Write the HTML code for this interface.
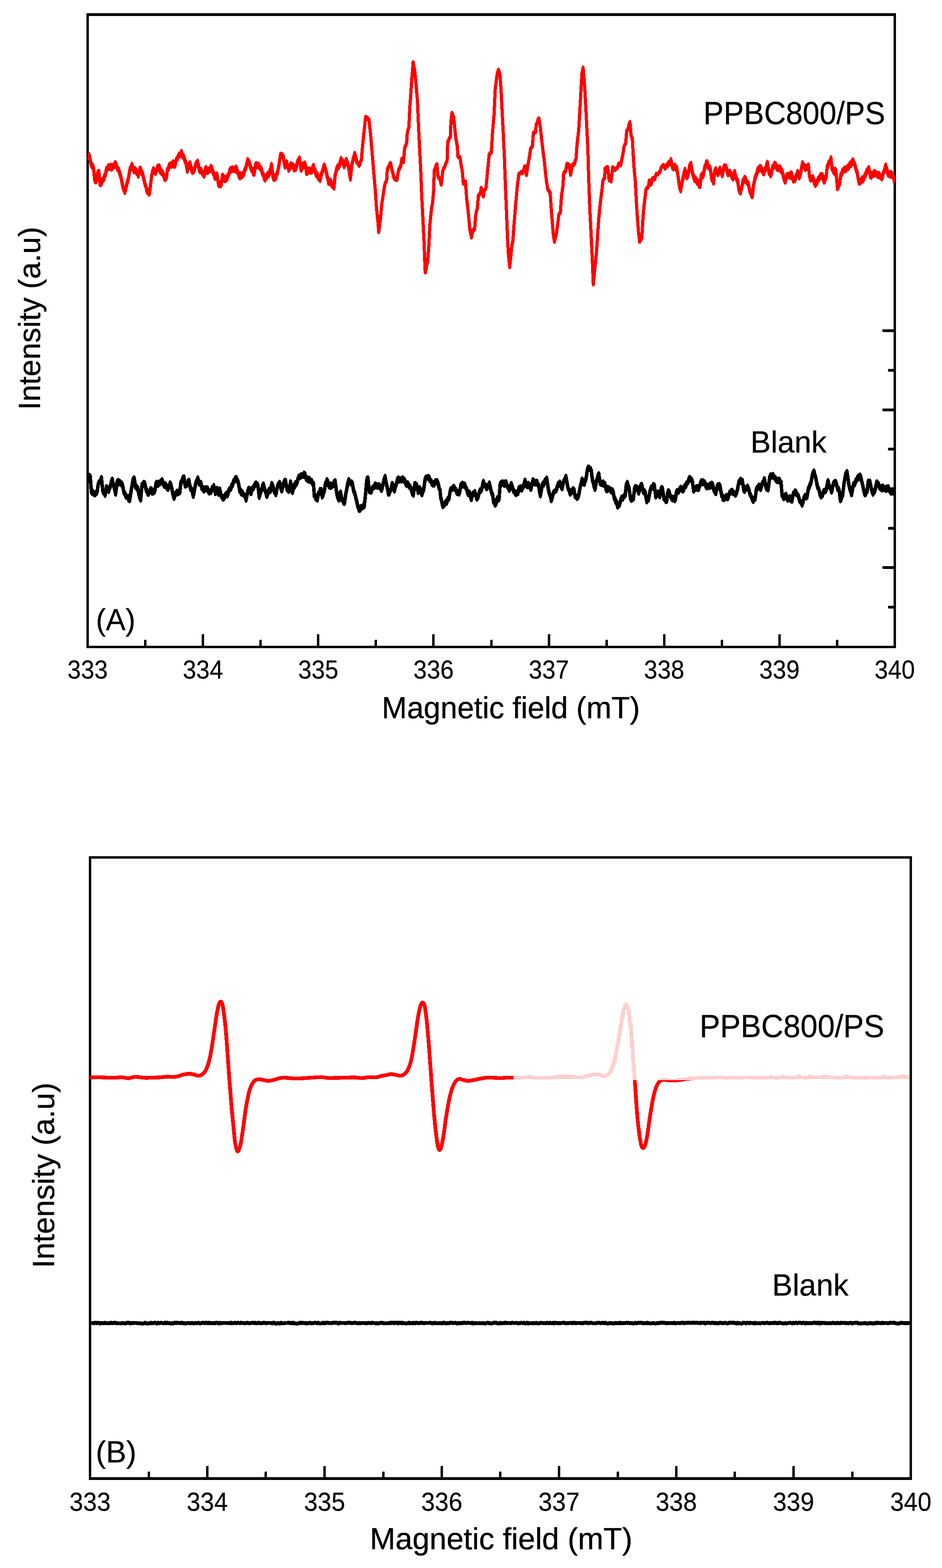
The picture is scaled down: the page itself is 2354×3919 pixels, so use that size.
<!DOCTYPE html>
<html lang="en"><head><meta charset="utf-8"><title>EPR spectra</title>
<style>html,body{margin:0;padding:0;background:#fff}body{width:2354px;height:3919px;overflow:hidden}svg{display:block}text{font-family:"Liberation Sans",sans-serif;fill:#000}</style>
</head><body>
<svg width="2354" height="3919" viewBox="0 0 2354 3919">
<defs>
<pattern id="dith" patternUnits="userSpaceOnUse" x="0" y="0" width="4" height="4"><rect x="3" y="1" width="1" height="1" fill="#f00"/><rect x="1" y="3" width="1" height="1" fill="#f00"/><rect x="3" y="3" width="1" height="1" fill="#f00"/></pattern>
<clipPath id="cbox"><rect x="1283" y="2150" width="991" height="549.5"/></clipPath>
<clipPath id="csolid"><path d="M0,2100 H1283 V2699.5 H2354 V3800 H0 Z"/></clipPath>
<clipPath id="cA"><rect x="218" y="40" width="2019" height="1574"/></clipPath>
<clipPath id="cB"><rect x="224" y="2146" width="2053" height="1546"/></clipPath>
</defs>
<rect width="2354" height="3919" fill="#fff"/>
<g id="frameA">
<path d="M216,33H2239V1620H216Z M222,40V1614H2233V40Z" fill="#000" fill-rule="evenodd" shape-rendering="crispEdges"/>
<path d="M360,1615V1600l1,-1h4l1,1V1615ZM504,1615V1586l1,-1h4l1,1V1615ZM648,1615V1600l1,-1h4l1,1V1615ZM792,1615V1586l1,-1h4l1,1V1615ZM936,1615V1600l1,-1h4l1,1V1615ZM1080,1615V1586l1,-1h4l1,1V1615ZM1225,1615V1600l1,-1h4l1,1V1615ZM1369,1615V1586l1,-1h4l1,1V1615ZM1513,1615V1600l1,-1h4l1,1V1615ZM1657,1615V1586l1,-1h4l1,1V1615ZM1801,1615V1600l1,-1h4l1,1V1615ZM1945,1615V1586l1,-1h4l1,1V1615ZM2089,1615V1600l1,-1h4l1,1V1615ZM2234,823H2206l-1,1v5l1,1H2234ZM2234,922H2220l-1,1v5l1,1H2234ZM2234,1021H2206l-1,1v5l1,1H2234ZM2234,1119H2220l-1,1v5l1,1H2234ZM2234,1218H2206l-1,1v5l1,1H2234ZM2234,1317H2220l-1,1v5l1,1H2234ZM2234,1415H2206l-1,1v5l1,1H2234ZM2234,1514H2220l-1,1v5l1,1H2234Z" fill="#000" shape-rendering="crispEdges"/>
</g>
<g id="frameB">
<path d="M222,2140H2279V3699H222Z M228,2146V3692H2273V2146Z" fill="#000" fill-rule="evenodd" shape-rendering="crispEdges"/>
<path d="M369,3693V3679l1,-1h4l1,1V3693ZM515,3693V3665l1,-1h4l1,1V3693ZM661,3693V3679l1,-1h4l1,1V3693ZM808,3693V3665l1,-1h4l1,1V3693ZM955,3693V3679l1,-1h4l1,1V3693ZM1101,3693V3665l1,-1h4l1,1V3693ZM1247,3693V3679l1,-1h4l1,1V3693ZM1394,3693V3665l1,-1h4l1,1V3693ZM1541,3693V3679l1,-1h4l1,1V3693ZM1687,3693V3665l1,-1h4l1,1V3693ZM1833,3693V3679l1,-1h4l1,1V3693ZM1980,3693V3665l1,-1h4l1,1V3693ZM2127,3693V3679l1,-1h4l1,1V3693Z" fill="#000" shape-rendering="crispEdges"/>
</g>
<g id="curves" fill="none" stroke-linejoin="round" stroke-linecap="butt" shape-rendering="crispEdges">
<g clip-path="url(#cA)"><path id="blankA" transform="scale(1,1.7)" d="M219.4,701.6 221.5,703.1 223.5,699.2 225.6,700.8 228.3,722.2 230.1,724.9 231.9,722.6 233.7,724.6 235.7,726.9 237.7,727.0 239.5,724.1 241.3,725.0 243.1,722.2 245.3,712.7 247.6,708.8 249.9,708.0 251.7,706.3 253.4,702.4 255.0,711.4 256.6,720.6 258.6,724.3 260.5,724.1 262.5,727.8 264.2,722.1 266.0,715.9 267.8,716.8 269.6,721.1 271.4,722.2 273.2,717.9 275.0,716.5 276.8,712.7 278.6,708.0 280.3,704.8 282.6,710.8 284.9,715.9 286.9,720.4 288.9,726.2 290.9,717.3 293.0,708.0 295.0,706.8 297.1,710.9 299.1,708.0 301.1,709.6 302.9,712.2 304.7,710.9 306.5,714.3 308.5,720.4 310.5,725.4 312.8,725.9 315.0,730.6 317.3,730.2 319.5,730.1 321.8,734.9 324.0,735.7 326.0,727.9 328.0,720.6 330.1,713.8 332.1,706.4 333.7,703.7 335.3,703.2 337.1,709.9 338.8,715.9 340.6,715.1 342.4,718.9 344.2,717.5 345.9,722.7 347.7,728.6 349.6,732.5 351.5,734.9 353.2,723.7 355.0,712.7 357.2,713.5 359.5,709.5 361.7,710.4 363.8,716.5 365.8,721.5 367.6,721.7 369.4,726.0 371.2,726.2 373.0,723.1 374.7,722.7 376.5,719.1 378.3,719.2 380.1,724.5 381.9,724.6 383.7,721.6 385.5,723.3 387.3,720.6 390.0,710.4 392.3,709.3 394.5,713.4 396.8,711.9 398.6,708.9 400.4,710.4 402.2,708.0 404.9,705.6 406.9,708.4 408.9,712.7 411.1,714.8 413.4,712.0 415.6,714.3 417.6,718.2 419.7,719.1 421.5,715.2 423.3,713.9 425.1,710.4 427.1,712.8 429.1,717.5 430.7,722.7 432.3,727.0 435.0,732.5 436.8,728.2 438.5,725.4 440.3,726.3 442.1,722.7 443.9,723.8 445.7,725.5 447.5,721.7 449.3,723.8 452.0,709.6 454.1,708.1 456.1,704.8 457.9,701.8 459.6,701.6 461.2,708.2 462.8,714.3 464.6,711.4 466.4,713.3 468.2,711.1 470.2,707.7 472.2,706.4 474.2,713.1 476.3,719.1 478.3,719.0 480.3,722.2 483.0,729.4 484.6,724.5 486.3,719.1 488.5,713.0 490.6,708.0 492.5,706.5 494.3,703.2 496.1,706.6 497.8,711.1 499.9,712.0 501.9,709.6 504.6,718.3 506.8,716.9 509.1,721.5 511.3,720.6 513.1,717.5 514.9,719.8 516.7,717.5 519.0,718.2 521.2,723.4 523.5,724.6 525.3,722.1 527.0,723.7 528.8,720.6 530.6,717.0 532.4,717.2 534.2,714.3 536.2,719.4 538.3,725.4 540.3,722.9 542.3,718.3 544.3,721.5 546.4,726.2 549.1,719.1 551.1,724.7 553.1,729.4 554.9,729.7 556.7,733.1 558.5,733.4 560.3,729.9 562.1,730.7 563.9,727.0 565.9,725.6 567.9,728.6 569.7,726.3 571.5,721.6 573.3,719.1 575.3,719.7 577.4,717.5 579.2,713.6 580.9,713.5 582.7,709.6 584.6,706.3 586.5,707.1 588.3,702.8 590.2,702.4 592.2,706.4 594.2,707.1 596.2,711.1 597.8,717.0 599.4,722.2 601.3,720.9 603.2,725.9 605.1,723.3 607.0,725.4 609.4,728.3 611.8,728.6 613.4,730.8 615.0,734.9 617.0,729.0 619.1,722.2 621.1,718.5 623.1,718.3 625.2,722.8 627.2,725.4 629.2,720.6 631.2,717.5 633.2,718.1 635.3,715.1 637.3,711.8 639.3,710.4 641.1,713.0 642.9,711.7 644.7,714.3 646.3,722.8 647.9,730.9 650.0,725.7 652.2,722.2 654.2,719.5 656.2,714.2 658.2,711.9 660.2,717.0 662.2,720.6 664.5,724.3 666.8,729.4 669.2,725.8 671.6,720.6 673.7,719.2 675.7,722.2 677.5,717.1 679.2,711.1 681.5,714.1 683.8,719.1 685.6,723.0 687.4,723.0 689.2,727.0 691.2,722.0 693.2,715.9 695.0,712.6 696.8,713.0 698.6,709.6 700.4,712.7 702.2,718.3 704.0,721.5 705.8,716.8 707.6,714.2 709.4,709.6 711.4,706.7 713.4,706.4 715.5,713.6 717.5,719.9 719.3,718.6 721.1,722.1 722.9,721.5 724.5,714.8 726.1,708.8 728.5,716.8 730.9,723.8 733.0,718.0 735.0,713.5 736.8,715.2 738.6,710.3 740.4,711.9 742.4,709.3 744.4,704.8 746.5,701.0 748.5,700.1 750.7,701.4 753.0,698.2 755.2,699.2 757.4,700.0 759.7,696.2 761.9,696.9 764.0,701.9 766.0,704.8 767.8,702.8 769.6,706.6 771.4,704.8 773.2,703.8 775.0,707.6 776.8,707.2 779.0,706.9 781.3,711.6 783.5,711.1 785.4,728.6 787.3,728.8 789.1,733.0 791.0,732.0 792.9,734.9 795.6,725.4 797.9,724.9 800.1,720.1 802.4,719.9 805.1,730.2 806.9,728.3 808.7,724.1 810.5,722.2 813.2,711.1 815.2,709.3 817.2,705.6 819.2,708.7 821.2,713.5 823.1,715.7 825.0,711.9 826.9,716.3 828.8,712.5 830.7,714.3 832.9,712.8 835.2,708.3 837.4,707.2 840.1,719.1 842.8,728.6 844.8,732.7 846.8,734.9 848.8,729.0 850.9,723.8 852.9,729.9 854.9,734.9 856.9,735.2 858.9,739.3 860.9,739.7 862.6,732.3 864.4,725.4 866.4,719.6 868.4,712.7 870.0,708.7 871.6,705.6 874.0,709.5 876.5,711.1 878.5,709.2 880.5,710.4 882.2,716.6 884.0,722.2 885.6,723.6 887.3,727.0 889.3,732.3 891.3,736.5 894.0,744.5 895.8,746.0 897.5,750.0 899.5,749.9 901.5,745.2 903.5,745.2 905.7,746.3 908.0,743.0 910.2,744.5 912.0,735.1 913.7,725.4 916.4,706.4 918.0,703.2 919.6,703.2 921.2,712.9 922.9,722.2 925.0,720.0 927.0,723.3 929.1,720.6 931.1,716.8 933.1,715.9 935.3,716.2 937.6,712.1 939.8,712.7 941.8,716.0 943.9,715.9 945.9,713.2 947.9,713.5 949.7,717.2 951.5,717.0 953.3,720.6 955.3,716.7 957.4,711.1 959.8,705.2 962.2,700.8 964.5,708.1 966.7,714.3 968.8,719.8 970.8,726.2 972.6,725.9 974.4,721.4 976.2,720.6 978.2,716.5 980.2,711.1 982.0,713.8 983.8,718.7 985.6,721.5 987.6,716.6 989.6,712.7 991.7,708.9 993.7,704.0 995.5,703.1 997.3,707.0 999.1,706.4 1000.9,704.5 1002.7,706.8 1004.5,704.0 1006.3,702.8 1008.1,706.8 1009.9,704.8 1011.9,706.9 1013.9,711.1 1016.1,713.3 1018.4,710.0 1020.6,712.7 1022.7,715.9 1024.7,715.1 1026.7,717.9 1028.7,722.2 1030.8,725.9 1032.8,727.8 1034.8,719.2 1036.8,711.1 1038.8,714.0 1040.9,712.7 1042.9,717.7 1044.9,723.8 1046.9,721.8 1048.9,717.5 1050.7,719.8 1052.5,724.8 1054.3,727.0 1056.3,723.0 1058.4,720.6 1060.4,713.0 1062.4,704.8 1064.5,701.9 1066.5,701.6 1068.5,702.8 1070.5,700.8 1072.3,701.5 1074.1,706.1 1075.9,706.4 1077.7,707.6 1079.5,711.6 1081.3,712.7 1083.1,710.3 1084.9,712.7 1086.7,709.6 1088.5,707.1 1090.3,709.1 1092.1,707.2 1094.1,709.7 1096.1,714.3 1097.8,718.5 1099.6,720.6 1101.5,731.8 1103.3,735.2 1105.1,740.8 1106.9,744.5 1108.7,741.2 1110.5,742.5 1112.3,739.7 1114.1,737.4 1115.9,739.6 1117.7,736.5 1119.7,733.1 1121.7,733.4 1123.3,728.1 1125.0,722.2 1126.8,718.9 1128.5,719.1 1130.5,718.5 1132.5,715.9 1134.3,715.6 1136.1,719.1 1137.9,719.1 1139.7,720.2 1141.5,724.2 1143.3,725.4 1145.1,722.9 1146.9,725.8 1148.7,723.8 1150.3,718.0 1151.9,712.7 1153.8,713.9 1155.7,710.8 1157.6,714.3 1159.5,711.9 1161.3,712.4 1163.1,716.6 1164.9,717.5 1166.9,720.6 1168.9,725.4 1170.7,727.2 1172.5,723.7 1174.3,725.4 1176.0,730.4 1177.8,734.1 1180.1,728.9 1182.4,725.4 1184.4,726.1 1186.4,723.1 1188.8,727.5 1191.3,733.4 1193.5,732.4 1195.8,728.6 1197.8,723.8 1199.9,720.6 1201.9,721.7 1203.9,719.1 1206.0,713.0 1208.0,708.0 1210.0,712.1 1212.0,714.3 1213.8,713.7 1215.6,718.2 1217.4,717.5 1219.2,714.1 1221.0,714.2 1222.8,710.4 1224.8,714.9 1226.8,720.6 1228.8,725.1 1230.9,727.0 1233.6,738.1 1235.4,737.4 1237.2,742.3 1239.0,741.3 1241.7,734.1 1243.5,731.9 1245.3,735.3 1247.1,733.4 1249.8,712.7 1251.6,710.0 1253.3,711.7 1255.1,708.8 1257.2,709.1 1259.2,712.7 1261.0,713.2 1262.8,708.9 1264.6,708.8 1266.6,712.9 1268.6,715.9 1270.7,717.4 1272.7,720.6 1275.1,716.4 1277.5,711.1 1279.8,714.9 1282.1,719.9 1283.9,722.6 1285.7,722.5 1287.5,725.4 1289.7,726.7 1292.0,723.4 1294.2,725.4 1296.9,717.5 1298.7,719.8 1300.5,716.3 1302.3,719.1 1304.1,720.1 1305.9,715.1 1307.7,715.9 1309.8,712.0 1311.8,706.4 1313.8,709.8 1315.8,714.3 1318.0,715.2 1320.3,711.0 1322.5,712.7 1324.5,716.9 1326.6,719.1 1328.4,714.1 1330.2,710.8 1332.0,705.6 1334.0,707.3 1336.0,711.1 1338.0,711.1 1340.1,708.0 1341.9,708.3 1343.6,712.3 1345.4,712.7 1347.8,720.4 1350.2,728.6 1352.5,721.9 1354.8,714.3 1356.6,710.9 1358.4,713.0 1360.2,709.6 1362.2,706.0 1364.1,707.0 1366.1,703.2 1368.2,710.9 1370.2,719.1 1372.3,724.4 1374.5,728.6 1376.1,731.3 1377.7,735.7 1379.8,732.1 1381.8,727.0 1384.1,723.2 1386.4,722.2 1388.8,721.7 1391.2,719.1 1393.2,714.4 1395.3,711.1 1397.1,712.9 1398.8,709.1 1400.6,711.1 1402.7,715.8 1404.7,718.3 1407.1,711.7 1409.5,706.4 1411.8,704.7 1414.1,700.8 1416.2,707.2 1418.2,714.3 1420.2,718.7 1422.2,720.6 1424.9,726.2 1426.7,722.6 1428.5,723.8 1430.3,720.6 1432.3,718.9 1434.3,719.9 1435.9,725.5 1437.6,730.2 1440.0,729.7 1442.4,732.5 1444.5,730.8 1446.5,727.0 1448.2,721.1 1450.0,715.9 1452.3,710.9 1454.6,704.8 1456.4,706.0 1458.1,710.4 1459.9,711.9 1462.0,707.5 1464.0,704.8 1466.0,698.1 1468.0,690.5 1469.8,687.2 1471.5,687.1 1473.5,689.9 1475.5,689.1 1477.5,692.1 1479.1,699.4 1480.7,706.4 1482.8,709.8 1484.8,715.7 1486.9,719.1 1488.9,712.4 1490.9,706.4 1492.7,704.1 1494.5,699.1 1496.3,696.9 1498.3,704.4 1500.4,711.1 1502.2,709.3 1504.0,712.1 1505.8,710.4 1507.6,709.0 1509.4,713.2 1511.2,711.1 1513.2,715.3 1515.2,720.6 1517.0,721.2 1518.8,717.0 1520.6,717.5 1522.4,720.0 1524.2,718.7 1526.0,721.5 1528.0,723.1 1529.9,720.4 1531.9,722.2 1533.7,728.2 1535.4,733.4 1537.2,733.7 1539.0,738.4 1540.8,738.1 1543.5,745.2 1545.5,742.7 1547.5,742.9 1549.5,739.1 1551.6,734.1 1553.8,731.2 1556.1,733.5 1558.3,730.9 1560.3,728.2 1562.4,728.6 1565.1,712.7 1567.8,709.6 1569.8,714.4 1571.8,717.5 1573.8,725.2 1575.8,733.4 1578.1,735.3 1580.3,732.1 1582.6,733.4 1584.2,726.0 1585.8,718.3 1587.9,715.7 1589.9,719.5 1592.0,716.7 1594.0,719.8 1596.1,724.6 1598.1,720.8 1600.1,715.9 1601.8,713.0 1603.6,712.7 1605.9,718.8 1608.2,723.8 1610.2,721.7 1612.2,723.8 1614.2,730.9 1616.3,737.3 1618.3,734.9 1620.3,734.9 1622.3,729.1 1624.4,722.2 1626.4,718.0 1628.4,715.9 1630.6,716.9 1632.9,712.6 1635.1,713.5 1636.9,722.1 1638.7,730.2 1640.7,726.8 1642.6,727.6 1644.6,723.8 1646.6,726.1 1648.6,730.2 1650.3,725.0 1652.1,719.1 1653.8,717.1 1655.4,718.3 1657.4,726.2 1659.4,733.4 1661.6,732.5 1663.9,736.8 1666.1,736.5 1668.8,723.8 1670.4,721.7 1672.1,723.1 1674.5,728.4 1676.9,731.8 1678.7,730.6 1680.5,734.7 1682.3,733.4 1684.1,731.7 1685.9,735.9 1687.7,734.1 1690.4,723.8 1692.6,721.5 1694.9,723.7 1697.1,721.5 1699.2,718.2 1701.2,716.7 1703.0,720.1 1704.8,718.2 1706.6,721.5 1708.4,720.1 1710.2,715.2 1712.0,714.3 1713.8,714.9 1715.6,710.5 1717.4,710.4 1719.4,708.9 1721.4,704.8 1723.2,702.3 1724.9,702.9 1726.7,705.8 1728.4,705.2 1730.2,708.0 1731.8,715.0 1733.5,721.5 1735.7,718.6 1738.0,718.8 1740.2,715.9 1742.0,715.8 1743.8,719.4 1745.6,719.1 1747.4,715.2 1749.2,713.4 1751.0,709.6 1752.9,707.3 1754.8,710.9 1756.6,707.3 1758.5,710.8 1760.4,708.8 1762.5,711.2 1764.5,715.9 1766.7,717.0 1769.0,713.9 1771.2,715.1 1773.1,716.6 1775.0,711.7 1776.8,715.4 1778.7,710.8 1780.6,711.9 1782.7,717.3 1784.7,721.5 1786.7,722.4 1788.7,725.4 1790.5,720.9 1792.2,715.1 1794.0,713.0 1795.8,716.9 1797.7,713.0 1799.5,715.1 1801.5,722.2 1803.6,728.6 1805.4,729.1 1807.1,733.9 1808.9,734.1 1810.7,731.5 1812.5,732.5 1814.3,729.4 1816.1,728.8 1817.9,733.0 1819.7,731.8 1821.8,726.8 1823.8,723.8 1825.8,724.4 1827.8,721.5 1829.6,721.3 1831.4,725.1 1833.2,725.4 1835.5,725.0 1837.8,727.8 1840.2,725.2 1842.6,720.6 1844.7,713.9 1846.7,708.0 1848.7,708.9 1850.8,705.0 1852.8,708.6 1854.8,706.4 1856.8,713.2 1858.8,720.6 1860.6,722.2 1862.4,717.4 1864.2,719.1 1866.0,718.4 1867.7,715.1 1870.0,717.6 1872.3,722.2 1874.3,726.6 1876.3,728.6 1878.3,730.9 1880.4,734.9 1882.5,736.9 1884.5,733.2 1886.6,734.1 1888.2,727.7 1889.8,720.6 1892.0,717.0 1894.3,717.3 1896.5,713.5 1898.5,714.8 1900.6,719.1 1902.4,716.6 1904.2,711.9 1906.0,709.6 1908.0,708.1 1910.0,704.0 1912.0,709.4 1914.1,715.9 1915.9,718.7 1917.7,716.8 1919.5,719.9 1921.5,711.0 1923.5,701.6 1925.7,698.5 1928.0,701.3 1930.2,698.5 1932.0,698.1 1933.8,702.0 1935.6,701.6 1937.4,702.5 1939.2,706.3 1941.0,707.2 1942.8,705.2 1944.6,707.8 1946.4,704.8 1948.2,705.3 1950.0,709.5 1951.8,709.6 1954.5,728.6 1956.3,728.4 1958.1,732.8 1959.9,731.8 1961.9,728.1 1963.9,727.0 1966.0,731.6 1968.0,734.9 1969.8,731.8 1971.6,734.1 1973.4,730.9 1975.2,731.1 1977.0,735.7 1978.8,736.5 1980.8,730.5 1982.8,725.4 1984.8,725.4 1986.8,722.2 1988.6,722.6 1990.4,726.9 1992.2,727.0 1994.2,728.0 1996.3,731.8 1998.3,736.1 2000.3,738.1 2002.3,738.4 2004.4,742.1 2006.4,738.5 2008.4,733.4 2010.5,729.9 2012.5,728.6 2014.5,731.6 2016.5,730.9 2018.5,723.8 2020.5,717.5 2022.3,716.3 2024.1,712.4 2025.9,711.1 2028.0,705.3 2030.0,698.5 2032.0,694.7 2034.0,692.9 2036.0,697.8 2038.1,701.6 2040.1,707.1 2042.1,713.5 2043.9,717.3 2045.7,718.5 2047.5,722.2 2049.5,727.0 2051.5,730.2 2053.3,727.1 2055.1,728.4 2056.9,725.4 2058.9,721.6 2061.0,721.5 2063.0,722.3 2065.0,719.1 2067.1,712.7 2069.1,707.2 2071.1,712.4 2073.1,715.9 2075.6,718.6 2078.0,723.1 2080.2,717.8 2082.5,711.1 2084.3,709.0 2086.1,710.4 2087.9,708.0 2089.9,710.9 2092.0,715.9 2093.8,719.4 2095.6,718.7 2097.4,722.2 2100.1,735.7 2101.9,734.2 2103.6,730.1 2105.4,728.6 2107.4,719.4 2109.5,709.6 2111.5,702.9 2113.5,696.9 2115.0,696.3 2116.5,693.7 2118.6,701.4 2120.6,709.6 2122.2,714.9 2123.8,719.1 2125.9,722.1 2127.9,727.0 2129.9,721.2 2131.9,714.3 2133.7,711.0 2135.5,712.5 2137.3,709.6 2139.1,705.8 2140.9,705.8 2142.7,702.4 2144.7,700.7 2146.8,703.6 2148.8,698.7 2150.8,700.4 2152.8,706.3 2154.8,711.1 2156.9,716.2 2158.9,722.2 2161.5,727.0 2163.3,726.5 2165.1,722.7 2166.9,722.2 2169.6,708.0 2171.6,709.3 2173.7,708.0 2175.7,713.2 2177.7,719.1 2179.8,723.5 2181.8,726.2 2183.6,722.4 2185.4,722.9 2187.2,719.1 2189.2,713.3 2191.2,708.8 2193.0,712.1 2194.8,711.2 2196.6,714.3 2198.4,717.6 2200.2,715.9 2202.0,719.1 2203.8,720.1 2205.6,715.0 2207.4,715.9 2209.6,719.2 2211.9,717.4 2214.1,720.6 2215.9,720.2 2217.7,716.1 2219.5,715.9 2221.5,720.0 2223.5,722.2 2225.3,721.4 2227.1,724.7 2228.9,723.8 2230.7,721.8 2232.4,724.4 2234.2,720.8 2235.9,722.2" stroke="#000" stroke-width="8.6"/>
<path id="sampleA-base" transform="scale(1,2.0)" d="M219.4,195.3 221.2,196.0 222.9,194.0 224.9,198.6 227.0,204.1 229.2,207.5 231.5,207.1 233.7,210.2 236.4,224.3 238.4,226.7 240.4,226.3 242.4,220.5 244.5,215.6 247.2,214.8 249.9,229.7 251.9,230.2 253.9,228.3 255.9,225.3 258.0,224.3 259.8,223.6 261.5,219.5 263.3,218.9 266.0,211.5 268.3,211.4 270.5,208.1 272.8,208.2 274.8,209.6 276.9,207.0 278.9,210.8 280.9,209.4 283.1,206.9 285.4,207.4 287.6,204.1 289.6,204.8 291.6,208.2 293.9,211.5 296.1,211.5 298.4,214.8 300.4,218.7 302.4,221.6 304.4,226.8 306.5,232.4 308.3,235.7 310.1,236.8 311.9,239.8 313.9,236.6 315.9,232.4 317.7,228.4 319.5,225.6 321.3,221.6 323.3,215.9 325.3,210.8 327.4,209.4 329.4,206.1 331.4,208.2 333.4,212.2 335.7,214.1 337.9,211.4 340.2,213.5 342.0,216.5 343.8,216.5 345.6,219.6 347.6,215.7 349.6,210.8 351.4,211.4 353.2,215.5 355.0,215.6 357.0,218.5 359.0,222.9 361.1,227.7 363.1,231.1 364.9,233.2 366.7,237.5 368.5,239.8 370.3,239.1 372.1,242.0 373.9,241.2 376.5,229.7 379.2,218.9 381.2,214.8 383.3,211.5 385.1,214.4 386.9,213.6 388.7,216.2 390.7,214.1 392.7,210.2 394.5,208.2 396.3,210.7 398.1,208.2 400.8,214.8 402.6,213.2 404.4,216.3 406.2,215.6 408.2,218.0 410.2,221.6 412.0,223.7 413.8,220.6 415.6,222.3 418.3,212.2 420.6,211.3 422.8,206.7 425.1,205.4 427.1,207.1 429.1,206.8 431.8,203.4 433.6,203.1 435.4,207.2 437.2,206.8 439.9,201.4 441.7,198.6 443.5,198.0 445.3,195.3 447.3,193.4 449.3,194.0 451.4,193.3 453.4,189.9 456.1,195.3 458.1,194.8 460.1,197.3 462.1,200.7 464.2,202.8 466.2,207.8 468.2,213.5 470.2,209.9 472.2,205.4 474.9,204.1 476.9,208.1 479.0,212.8 480.8,214.9 482.6,212.1 484.4,213.5 486.4,210.8 488.4,206.8 490.2,204.1 492.0,204.5 493.8,202.1 495.8,206.6 497.8,212.2 500.1,214.1 502.3,212.4 504.6,214.8 506.4,217.3 508.2,217.0 510.0,219.6 512.0,215.2 514.0,210.2 515.8,210.8 517.6,214.8 519.4,214.8 521.5,212.0 523.5,212.2 525.3,212.4 527.0,208.7 528.8,209.4 530.8,213.4 532.9,216.2 534.7,217.3 536.5,221.4 538.3,222.3 540.3,219.1 542.3,218.2 544.3,224.9 546.4,231.1 548.6,228.8 550.9,231.8 553.1,230.3 555.8,219.6 557.8,220.3 559.8,222.9 561.6,225.1 563.4,222.6 565.2,224.3 567.0,223.4 568.8,220.0 570.6,218.9 572.4,217.0 574.2,213.1 576.0,211.5 578.2,213.0 580.5,210.3 582.7,212.2 585.4,212.2 587.2,212.8 589.0,209.4 590.8,210.2 593.0,214.5 595.3,216.1 597.5,220.2 599.4,221.5 601.3,217.9 603.2,220.6 605.1,218.0 607.0,218.9 609.2,217.4 611.5,212.4 613.7,210.8 615.5,207.7 617.3,203.2 619.1,200.1 620.9,203.1 622.7,202.3 624.5,205.4 626.5,209.3 628.5,212.2 630.8,212.1 633.0,216.9 635.3,216.9 638.0,206.8 640.2,205.0 642.5,207.7 644.7,206.1 646.9,206.5 649.2,209.7 651.4,210.2 653.2,211.5 655.0,215.8 656.8,217.6 658.6,218.8 660.4,222.8 662.2,224.3 664.0,221.2 665.8,221.8 667.6,218.9 669.4,217.2 671.2,219.1 673.0,217.6 674.8,213.2 676.6,210.3 678.4,206.1 680.4,213.7 682.4,221.6 684.2,223.6 686.0,220.7 687.8,222.9 689.6,221.7 691.4,217.7 693.2,216.2 695.2,211.3 697.3,205.4 699.3,199.1 701.3,193.3 703.5,195.1 705.8,193.9 708.0,196.0 710.0,202.4 712.1,208.2 714.1,204.9 716.1,202.8 717.9,206.4 719.7,208.4 721.5,212.2 723.3,210.9 725.1,207.0 726.9,205.4 729.1,208.0 731.4,206.5 733.6,209.4 735.4,211.8 737.2,208.7 739.0,210.8 740.8,208.4 742.6,203.9 744.4,201.4 746.5,200.6 748.5,198.0 750.5,204.9 752.5,212.2 754.3,210.5 756.1,206.5 757.9,205.4 759.7,207.6 761.5,204.4 763.3,206.8 766.0,216.2 768.2,215.7 770.5,212.1 772.7,212.2 774.5,214.4 776.3,212.4 778.1,214.8 779.9,213.1 781.7,208.8 783.5,207.4 785.3,210.9 787.1,212.6 788.9,216.2 790.7,218.9 792.5,217.4 794.3,220.2 796.1,223.1 797.9,222.1 799.7,224.9 801.5,222.3 803.3,217.5 805.1,214.8 806.9,212.8 808.7,208.6 810.5,206.8 812.3,210.7 814.0,212.3 815.8,216.2 817.6,220.7 819.4,223.7 821.2,228.3 823.2,228.6 825.3,225.7 827.1,227.0 828.9,231.1 830.7,232.4 832.7,232.2 834.7,234.4 837.4,218.9 839.5,215.4 841.5,210.8 843.7,208.1 846.0,209.1 848.2,206.8 850.2,202.2 852.2,198.7 854.0,201.9 855.8,201.0 857.6,204.1 860.0,207.8 861.8,206.0 863.6,201.8 865.4,199.8 867.2,203.3 869.0,204.4 870.8,207.8 873.2,215.9 875.6,223.3 877.5,214.1 879.4,205.2 881.1,202.4 882.9,198.0 884.6,196.0 886.4,192.3 888.7,196.1 891.0,201.1 893.1,204.2M1667.2,205.4 1669.0,206.0 1670.8,203.8 1672.6,204.1 1674.6,203.2 1676.6,200.1 1678.6,204.4 1680.6,209.4 1682.7,210.3 1684.7,208.2 1686.7,207.1 1688.6,210.6 1690.6,209.4 1692.3,213.9 1694.1,218.9 1696.8,229.7 1698.8,234.5 1700.9,237.8 1702.9,232.0 1704.9,227.0 1706.9,222.7 1708.9,217.6 1711.6,212.2 1713.7,216.3 1715.7,221.6 1717.7,220.6 1719.7,217.6 1721.8,211.8 1723.8,206.8 1726.5,204.8 1728.5,210.8 1730.5,216.2 1732.5,219.1 1734.6,222.9 1736.4,225.1 1738.1,223.0 1739.9,224.9 1741.7,228.0 1743.5,226.7 1745.3,229.7 1747.3,232.1 1749.4,232.4 1752.1,220.2 1753.9,218.4 1755.7,220.4 1757.5,218.9 1759.5,213.2 1761.5,208.2 1763.3,207.6 1765.1,203.2 1766.9,202.8 1768.9,206.8 1770.9,209.4 1773.0,208.9 1775.0,210.8 1777.0,217.7 1779.0,224.3 1781.0,225.2 1783.1,228.3 1785.8,214.8 1788.5,211.5 1790.3,214.8 1792.1,214.8 1793.9,217.6 1795.7,216.3 1797.4,212.5 1799.2,210.8 1801.0,214.1 1802.8,215.6 1804.6,218.9 1806.7,214.7 1808.7,209.4 1810.5,207.7 1812.3,209.9 1814.1,208.2 1816.5,212.3 1818.9,217.6 1821.2,217.2 1823.5,214.8 1825.5,215.7 1827.5,218.9 1829.5,221.7 1831.6,222.9 1833.6,218.4 1835.6,214.8 1837.7,219.4 1839.7,222.9 1841.7,224.2 1843.7,227.0 1846.4,236.4 1848.5,239.5 1850.5,240.4 1852.5,235.9 1854.5,232.4 1857.2,225.7 1859.0,226.0 1860.8,222.6 1862.6,222.9 1864.6,226.5 1866.6,228.3 1868.7,228.7 1870.7,231.1 1872.7,236.1 1874.7,240.4 1876.5,240.8 1878.3,244.8 1880.1,245.2 1882.8,232.4 1885.5,225.7 1887.5,221.6 1889.5,218.9 1891.3,217.1 1893.1,212.7 1894.9,210.8 1897.2,212.2 1899.4,208.7 1901.7,209.4 1903.5,212.7 1905.3,212.9 1907.1,216.2 1908.9,216.4 1910.7,212.4 1912.5,212.2 1914.3,209.8 1916.0,205.4 1917.8,203.4 1919.8,210.0 1921.9,216.2 1923.7,214.7 1925.5,218.9 1927.3,217.6 1929.3,212.5 1931.3,208.2 1933.6,208.4 1935.8,204.7 1938.1,205.4 1940.1,208.8 1942.1,210.8 1943.9,209.3 1945.7,211.7 1947.5,209.4 1949.7,209.6 1952.0,213.7 1954.2,213.5 1956.2,217.1 1958.3,221.6 1960.3,225.1 1962.3,227.0 1964.3,222.3 1966.4,218.9 1968.6,220.3 1970.9,218.6 1973.1,220.2 1974.9,220.9 1976.7,216.7 1978.5,217.6 1980.5,222.3 1982.5,225.7 1984.3,223.7 1986.1,225.2 1987.9,222.9 1989.7,219.4 1991.5,218.3 1993.3,214.8 1995.3,217.5 1997.4,221.6 1999.4,218.7 2001.4,214.8 2003.4,209.2 2005.4,204.1 2007.2,206.7 2009.0,206.9 2010.8,209.4 2012.6,211.2 2014.4,208.4 2016.2,210.2 2018.1,209.6 2020.0,206.8 2022.7,218.9 2025.4,224.3 2027.2,222.4 2029.0,223.6 2030.8,221.6 2033.1,224.1 2035.3,228.9 2037.6,231.1 2039.4,227.9 2041.1,228.8 2042.9,225.7 2044.7,223.4 2046.5,223.8 2048.3,221.6 2050.6,218.9 2052.8,221.2 2055.1,218.9 2057.1,222.3 2059.1,227.0 2060.9,226.1 2062.7,222.4 2064.5,221.6 2067.2,208.2 2069.0,207.4 2070.8,203.6 2072.6,202.8 2074.6,201.4 2076.6,198.0 2079.3,210.8 2081.4,212.1 2083.4,214.8 2085.2,216.1 2087.0,212.2 2088.8,213.5 2091.5,228.3 2092.8,235.1 2094.6,234.1 2096.4,230.5 2098.2,229.7 2100.9,218.9 2103.1,217.8 2105.4,213.4 2107.6,212.2 2109.6,213.0 2111.6,210.3 2113.7,212.6 2115.7,210.8 2118.0,208.6 2120.2,209.8 2122.5,206.8 2124.3,204.3 2126.1,206.5 2127.9,204.1 2129.9,201.0 2131.9,200.7 2133.7,204.1 2135.5,204.9 2137.3,208.2 2139.1,212.0 2140.9,213.8 2142.7,217.6 2144.7,223.4 2146.7,228.3 2148.5,225.8 2150.3,227.7 2152.1,225.7 2154.4,223.0 2156.6,225.5 2158.9,222.9 2160.7,219.7 2162.4,219.5 2164.2,216.2 2166.5,213.1 2168.7,213.6 2171.0,210.2 2173.0,214.7 2175.0,220.2 2177.3,220.9 2179.5,216.8 2181.8,217.6 2183.6,218.5 2185.4,214.9 2187.2,215.6 2189.0,218.1 2190.7,216.9 2192.5,218.9 2194.3,220.2 2196.1,217.4 2197.9,218.9 2199.7,221.1 2201.5,220.5 2203.3,222.9 2205.1,221.1 2206.9,216.7 2208.7,214.8 2211.0,211.3 2213.3,206.8 2215.8,210.8 2218.2,216.2 2220.0,218.4 2221.7,216.3 2223.5,218.2 2225.3,219.7 2227.1,216.2 2228.9,217.6 2230.9,220.6 2233.0,221.6 2235.7,228.3" stroke="#f00" stroke-width="8.0"/>
<path id="sampleA-peaks" transform="scale(1,1.3)" d="M893.1,314.1 895.1,314.3 897.2,318.8 899.2,316.3 901.1,310.0 903.1,307.3 905.8,282.5 907.8,267.1 909.9,251.4 911.9,237.6 913.9,224.4 915.9,226.7 918.0,226.2 920.0,229.3 922.0,229.6 924.0,243.4 926.0,257.6 928.0,276.4 930.1,294.9 932.1,313.5 934.1,332.2 936.2,351.1 938.2,369.5 940.9,400.6 942.9,414.9 944.9,429.7 946.3,446.2 948.3,435.2 950.3,423.5 952.3,406.7 954.3,390.3 957.0,377.8 959.0,367.8 961.1,357.1 962.9,351.7 964.7,349.7 966.5,344.7 967.8,326.0 969.8,321.8 971.8,321.2 973.9,315.2 975.9,313.5 977.9,321.6 979.9,328.1 981.7,332.4 983.5,339.4 985.3,343.6 987.6,343.3 989.8,345.9 992.1,345.7 994.1,335.4 996.1,326.0 997.9,325.3 999.7,320.4 1001.5,319.8 1004.2,305.2 1006.2,309.7 1008.2,311.5 1010.9,286.6 1012.7,281.0 1014.5,279.3 1016.3,274.2 1017.7,255.5 1019.7,249.6 1021.7,245.2 1024.4,203.7 1026.5,181.0 1028.5,158.1 1030.5,138.8 1032.5,119.7 1034.5,128.9 1036.5,137.3 1039.2,158.1 1041.2,176.6 1043.3,195.4 1046.0,245.2 1048.7,286.6 1051.4,328.1 1054.1,379.9 1056.8,421.4 1059.5,462.8 1061.6,504.3 1062.7,524.0 1064.5,517.9 1066.2,510.5 1068.9,502.2 1071.6,473.2 1074.3,431.8 1076.3,416.0 1078.3,400.6 1081.0,390.3 1083.7,365.4 1085.1,328.1 1087.3,324.9 1089.6,318.4 1091.8,315.6 1094.5,338.5 1096.5,342.1 1098.5,342.6 1100.5,348.0 1102.6,355.0 1104.6,341.7 1106.6,328.1 1108.9,323.1 1111.1,321.2 1113.4,315.6 1115.4,311.7 1117.4,309.4 1118.8,272.1 1121.0,270.6 1123.3,265.3 1125.5,263.8 1126.8,234.8 1129.5,217.2 1131.5,221.8 1133.6,224.4 1136.3,245.2 1139.0,265.8 1141.0,273.5 1143.0,282.5 1144.4,301.2 1146.2,302.6 1148.0,301.7 1149.8,303.2 1152.5,317.7 1155.1,328.1 1157.8,352.9 1159.6,352.7 1161.4,349.4 1163.2,348.8 1165.9,379.9 1168.0,393.7 1170.0,406.8 1172.0,423.3 1174.0,440.0 1176.0,448.7 1178.1,456.6 1180.8,444.2 1182.6,442.0 1184.3,442.6 1186.1,440.0 1188.8,413.1 1190.8,406.0 1192.9,400.6 1195.6,375.8 1197.4,375.6 1199.2,371.7 1201.0,371.6 1202.3,361.2 1204.1,367.8 1205.9,371.2 1207.7,377.8 1210.4,365.4 1212.4,364.6 1214.4,361.2 1216.5,344.5 1218.5,328.1 1220.5,312.7 1222.5,297.0 1224.3,294.7 1226.1,295.0 1227.9,292.8 1230.6,255.5 1232.7,237.7 1234.7,220.2 1237.4,172.5 1239.4,160.4 1241.4,147.7 1242.7,141.5 1245.4,134.2 1247.4,138.0 1249.4,143.5 1252.1,172.5 1254.8,214.0 1257.5,255.5 1260.2,297.0 1262.1,338.5 1264.3,379.9 1266.4,421.4 1268.3,456.6 1270.2,485.6 1272.0,499.8 1273.7,513.6 1276.4,493.9 1279.1,471.2 1281.8,462.8 1284.5,431.8 1286.5,413.0 1288.5,394.4 1290.5,376.9 1292.6,359.2 1294.6,346.4 1296.6,334.3 1298.6,334.5 1300.6,332.2 1302.9,330.5 1305.1,332.6 1307.4,331.2 1309.4,324.4 1311.4,319.8 1313.5,328.8 1315.5,336.4 1317.5,325.7 1319.5,315.6 1321.5,308.1 1323.6,299.1 1325.7,286.6 1328.0,283.2 1330.3,282.5 1333.0,255.5 1334.8,255.7 1336.6,253.0 1338.4,253.5 1340.3,238.9 1342.4,236.4 1344.4,229.9 1346.5,227.5 1348.5,236.8 1350.5,245.2 1353.2,265.8 1355.2,279.1 1357.3,292.8 1359.9,307.3 1362.6,328.1 1365.3,346.8 1367.3,356.7 1369.4,365.4 1371.2,365.4 1373.0,369.6 1374.8,369.5 1377.5,400.6 1380.2,427.6 1382.9,452.5 1385.6,464.9 1387.6,457.9 1389.6,452.5 1391.6,442.5 1393.6,431.8 1396.3,413.1 1398.3,410.1 1400.4,408.9 1403.1,375.8 1404.8,368.0 1406.6,359.2 1408.5,334.3 1410.3,330.8 1412.1,331.4 1413.9,328.1 1416.5,315.6 1418.3,314.7 1420.1,317.3 1421.9,316.7 1424.0,326.0 1426.0,336.4 1428.0,327.6 1430.0,317.7 1431.8,315.5 1433.6,317.5 1435.4,315.6 1437.5,309.2 1439.5,305.2 1442.2,276.2 1444.2,263.0 1446.2,249.3 1448.9,214.0 1451.6,176.7 1454.3,141.5 1457.0,130.1 1459.7,151.8 1461.0,168.4 1463.7,203.7 1466.4,245.2 1469.1,286.6 1470.5,328.1 1472.3,369.5 1474.5,411.0 1477.2,452.5 1479.9,493.9 1482.6,546.8 1484.6,530.5 1486.6,514.7 1488.7,499.4 1490.7,483.6 1493.4,452.5 1496.1,421.4 1498.1,405.7 1500.1,390.3 1502.2,378.1 1504.2,365.4 1506.8,346.8 1508.8,343.6 1510.9,342.6 1512.2,323.9 1514.5,324.4 1516.7,321.2 1519.0,321.8 1521.7,344.7 1523.5,347.2 1525.3,346.7 1527.1,348.8 1529.1,335.6 1531.1,321.8 1533.1,323.1 1535.1,326.0 1537.4,326.7 1539.6,323.7 1541.9,323.9 1543.9,320.3 1545.9,314.6 1547.7,314.3 1549.5,317.5 1551.3,317.7 1553.3,309.0 1555.4,301.2 1557.4,292.3 1559.4,282.5 1561.5,278.0 1563.5,276.2 1566.1,251.4 1568.2,249.7 1570.2,245.2 1572.2,238.8 1574.2,234.8 1576.9,259.6 1578.6,264.2 1580.2,265.8 1582.3,297.0 1585.0,328.1 1587.7,348.8 1590.4,390.3 1593.1,421.4 1595.8,448.3 1598.5,464.9 1600.3,461.0 1602.1,460.9 1603.9,456.6 1606.6,421.4 1609.3,396.5 1612.0,379.9 1614.7,363.3 1616.5,361.1 1618.3,361.5 1620.1,359.2 1622.7,346.8 1624.8,349.7 1626.8,355.0 1628.8,349.5 1630.8,342.6 1632.6,342.0 1634.4,345.3 1636.2,344.7 1638.1,338.5 1640.0,334.3 1642.9,334.7 1644.7,335.1 1646.5,331.4 1648.3,331.6 1650.1,328.8 1651.9,323.0 1653.7,320.2 1655.7,320.1 1657.7,317.1 1659.8,319.2 1661.8,324.3 1663.6,322.5 1665.4,317.4 1667.2,316.1 1669.0,316.9" stroke="#f00" stroke-width="8.0"/></g>
<path id="blankB" d="M225.0,3306.2 227.5,3306.9 230.0,3306.5 232.5,3307.0 235.0,3307.1 237.5,3305.8 240.0,3305.6 242.5,3307.6 245.0,3306.2 247.5,3306.2 250.0,3308.0 252.5,3306.7 255.0,3307.6 257.5,3306.7 260.0,3307.1 262.5,3306.0 265.0,3307.1 267.5,3307.7 270.0,3306.9 272.5,3307.4 275.0,3307.2 277.5,3305.8 280.0,3307.4 282.5,3307.0 285.0,3306.3 287.5,3305.7 290.0,3307.7 292.5,3306.7 295.0,3307.3 297.5,3307.7 300.0,3307.3 302.5,3307.8 305.0,3306.5 307.5,3307.5 310.0,3306.7 312.5,3307.8 315.0,3307.7 317.5,3305.8 320.0,3305.9 322.5,3306.1 325.0,3307.9 327.5,3306.6 330.0,3307.1 332.5,3306.3 335.0,3306.8 337.5,3306.5 340.0,3306.4 342.5,3307.0 345.0,3307.0 347.5,3307.8 350.0,3307.2 352.5,3307.8 355.0,3307.7 357.5,3308.0 360.0,3307.2 362.5,3306.0 365.0,3307.7 367.5,3307.9 370.0,3307.8 372.5,3307.0 375.0,3307.3 377.5,3306.1 380.0,3307.6 382.5,3307.0 385.0,3306.3 387.5,3305.8 390.0,3307.6 392.5,3308.0 395.0,3305.8 397.5,3307.5 400.0,3306.6 402.5,3306.0 405.0,3306.3 407.5,3307.4 410.0,3307.7 412.5,3305.7 415.0,3307.1 417.5,3305.7 420.0,3307.3 422.5,3306.4 425.0,3307.7 427.5,3308.0 430.0,3306.8 432.5,3308.0 435.0,3306.3 437.5,3305.8 440.0,3307.0 442.5,3305.7 445.0,3306.1 447.5,3306.6 450.0,3307.1 452.5,3306.0 455.0,3305.7 457.5,3307.7 460.0,3306.4 462.5,3307.9 465.0,3307.8 467.5,3306.5 470.0,3306.7 472.5,3306.8 475.0,3307.1 477.5,3307.0 480.0,3306.9 482.5,3307.1 485.0,3307.9 487.5,3306.8 490.0,3306.6 492.5,3307.3 495.0,3306.2 497.5,3306.3 500.0,3307.9 502.5,3306.9 505.0,3306.9 507.5,3305.6 510.0,3306.6 512.5,3307.0 515.0,3305.6 517.5,3307.1 520.0,3307.1 522.5,3305.7 525.0,3307.1 527.5,3306.7 530.0,3307.2 532.5,3306.4 535.0,3307.3 537.5,3307.4 540.0,3305.7 542.5,3305.7 545.0,3307.2 547.5,3307.9 550.0,3306.2 552.5,3306.7 555.0,3307.0 557.5,3306.4 560.0,3306.5 562.5,3306.4 565.0,3306.5 567.5,3307.0 570.0,3306.3 572.5,3306.5 575.0,3307.5 577.5,3305.7 580.0,3307.0 582.5,3307.4 585.0,3306.3 587.5,3306.1 590.0,3307.5 592.5,3306.2 595.0,3306.0 597.5,3306.6 600.0,3307.3 602.5,3305.8 605.0,3306.4 607.5,3306.4 610.0,3307.6 612.5,3306.7 615.0,3307.7 617.5,3306.0 620.0,3306.4 622.5,3307.2 625.0,3307.7 627.5,3306.7 630.0,3306.1 632.5,3305.9 635.0,3306.9 637.5,3306.1 640.0,3307.5 642.5,3307.6 645.0,3306.0 647.5,3306.3 650.0,3307.5 652.5,3307.1 655.0,3307.5 657.5,3306.4 660.0,3305.9 662.5,3306.3 665.0,3307.5 667.5,3306.3 670.0,3306.4 672.5,3306.6 675.0,3306.6 677.5,3306.6 680.0,3307.8 682.5,3306.0 685.0,3305.6 687.5,3307.9 690.0,3307.7 692.5,3308.0 695.0,3306.6 697.5,3307.9 700.0,3307.8 702.5,3306.1 705.0,3307.4 707.5,3307.6 710.0,3307.2 712.5,3306.8 715.0,3306.3 717.5,3306.4 720.0,3306.1 722.5,3305.8 725.0,3307.0 727.5,3306.3 730.0,3307.5 732.5,3305.7 735.0,3307.8 737.5,3307.3 740.0,3307.8 742.5,3307.8 745.0,3307.8 747.5,3307.0 750.0,3305.6 752.5,3307.4 755.0,3306.0 757.5,3306.3 760.0,3307.2 762.5,3306.9 765.0,3306.6 767.5,3307.9 770.0,3307.1 772.5,3306.4 775.0,3306.2 777.5,3307.7 780.0,3306.7 782.5,3307.5 785.0,3306.4 787.5,3306.1 790.0,3306.9 792.5,3307.6 795.0,3306.0 797.5,3307.5 800.0,3307.8 802.5,3307.5 805.0,3307.6 807.5,3305.6 810.0,3307.1 812.5,3307.7 815.0,3305.7 817.5,3306.3 820.0,3306.2 822.5,3306.9 825.0,3306.6 827.5,3306.7 830.0,3307.5 832.5,3305.6 835.0,3305.7 837.5,3305.9 840.0,3305.9 842.5,3305.8 845.0,3307.9 847.5,3307.7 850.0,3305.8 852.5,3306.8 855.0,3306.4 857.5,3306.4 860.0,3306.4 862.5,3307.2 865.0,3307.0 867.5,3306.5 870.0,3306.1 872.5,3306.4 875.0,3305.9 877.5,3306.9 880.0,3307.3 882.5,3306.5 885.0,3305.8 887.5,3306.0 890.0,3306.5 892.5,3307.1 895.0,3307.5 897.5,3306.5 900.0,3307.5 902.5,3307.1 905.0,3306.6 907.5,3306.5 910.0,3306.8 912.5,3307.3 915.0,3306.6 917.5,3307.3 920.0,3306.7 922.5,3306.2 925.0,3306.9 927.5,3307.3 930.0,3305.8 932.5,3306.6 935.0,3306.6 937.5,3307.7 940.0,3307.8 942.5,3306.5 945.0,3307.8 947.5,3307.5 950.0,3306.2 952.5,3306.7 955.0,3305.9 957.5,3307.6 960.0,3307.2 962.5,3307.7 965.0,3307.5 967.5,3307.2 970.0,3307.4 972.5,3307.0 975.0,3305.8 977.5,3307.0 980.0,3305.6 982.5,3305.9 985.0,3307.5 987.5,3305.7 990.0,3305.8 992.5,3305.8 995.0,3307.7 997.5,3306.0 1000.0,3305.7 1002.5,3307.6 1005.0,3305.9 1007.5,3307.6 1010.0,3307.2 1012.5,3307.6 1015.0,3307.9 1017.5,3307.0 1020.0,3307.5 1022.5,3305.7 1025.0,3307.4 1027.5,3306.8 1030.0,3307.3 1032.5,3305.9 1035.0,3307.4 1037.5,3307.8 1040.0,3305.7 1042.5,3306.4 1045.0,3307.0 1047.5,3307.6 1050.0,3306.2 1052.5,3306.0 1055.0,3306.2 1057.5,3307.1 1060.0,3307.4 1062.5,3306.5 1065.0,3306.5 1067.5,3306.6 1070.0,3306.4 1072.5,3306.6 1075.0,3305.8 1077.5,3306.8 1080.0,3307.9 1082.5,3306.6 1085.0,3307.4 1087.5,3306.0 1090.0,3307.3 1092.5,3307.4 1095.0,3307.2 1097.5,3306.8 1100.0,3306.8 1102.5,3307.1 1105.0,3307.8 1107.5,3306.0 1110.0,3305.8 1112.5,3307.4 1115.0,3307.8 1117.5,3306.8 1120.0,3306.7 1122.5,3307.3 1125.0,3306.0 1127.5,3306.2 1130.0,3306.1 1132.5,3307.0 1135.0,3306.4 1137.5,3306.2 1140.0,3307.3 1142.5,3307.9 1145.0,3306.3 1147.5,3307.3 1150.0,3306.6 1152.5,3307.6 1155.0,3307.0 1157.5,3306.2 1160.0,3306.1 1162.5,3305.7 1165.0,3306.8 1167.5,3306.5 1170.0,3306.0 1172.5,3306.5 1175.0,3306.4 1177.5,3307.5 1180.0,3305.9 1182.5,3308.0 1185.0,3306.8 1187.5,3307.0 1190.0,3306.7 1192.5,3307.6 1195.0,3307.6 1197.5,3306.9 1200.0,3306.8 1202.5,3307.3 1205.0,3307.7 1207.5,3306.6 1210.0,3307.4 1212.5,3307.9 1215.0,3306.7 1217.5,3306.2 1220.0,3306.2 1222.5,3307.3 1225.0,3307.2 1227.5,3307.9 1230.0,3307.6 1232.5,3306.2 1235.0,3306.1 1237.5,3306.2 1240.0,3306.0 1242.5,3307.3 1245.0,3307.7 1247.5,3307.8 1250.0,3306.2 1252.5,3307.7 1255.0,3306.4 1257.5,3306.6 1260.0,3307.3 1262.5,3305.8 1265.0,3305.8 1267.5,3307.6 1270.0,3306.3 1272.5,3306.5 1275.0,3307.0 1277.5,3307.2 1280.0,3305.6 1282.5,3306.4 1285.0,3306.6 1287.5,3306.8 1290.0,3306.1 1292.5,3307.0 1295.0,3307.9 1297.5,3306.5 1300.0,3306.9 1302.5,3305.9 1305.0,3306.3 1307.5,3307.2 1310.0,3305.9 1312.5,3307.7 1315.0,3307.8 1317.5,3305.8 1320.0,3307.9 1322.5,3306.5 1325.0,3307.5 1327.5,3307.4 1330.0,3306.3 1332.5,3307.2 1335.0,3307.2 1337.5,3307.5 1340.0,3306.2 1342.5,3307.4 1345.0,3307.9 1347.5,3307.2 1350.0,3306.9 1352.5,3305.9 1355.0,3306.8 1357.5,3306.4 1360.0,3307.3 1362.5,3307.2 1365.0,3307.0 1367.5,3306.0 1370.0,3307.1 1372.5,3307.1 1375.0,3306.0 1377.5,3307.7 1380.0,3307.2 1382.5,3305.9 1385.0,3307.8 1387.5,3305.9 1390.0,3306.4 1392.5,3307.3 1395.0,3307.0 1397.5,3306.9 1400.0,3307.2 1402.5,3306.7 1405.0,3306.3 1407.5,3306.0 1410.0,3305.8 1412.5,3307.3 1415.0,3307.4 1417.5,3306.9 1420.0,3307.4 1422.5,3306.5 1425.0,3306.2 1427.5,3306.5 1430.0,3307.7 1432.5,3305.7 1435.0,3306.8 1437.5,3306.2 1440.0,3307.4 1442.5,3306.4 1445.0,3306.4 1447.5,3306.6 1450.0,3306.9 1452.5,3307.5 1455.0,3306.4 1457.5,3307.6 1460.0,3305.9 1462.5,3306.2 1465.0,3305.8 1467.5,3305.9 1470.0,3307.5 1472.5,3307.3 1475.0,3306.0 1477.5,3306.1 1480.0,3306.6 1482.5,3307.4 1485.0,3307.6 1487.5,3307.4 1490.0,3307.0 1492.5,3306.0 1495.0,3306.6 1497.5,3306.1 1500.0,3306.9 1502.5,3307.0 1505.0,3306.1 1507.5,3306.2 1510.0,3307.5 1512.5,3305.7 1515.0,3307.5 1517.5,3307.7 1520.0,3307.9 1522.5,3306.5 1525.0,3306.9 1527.5,3307.0 1530.0,3307.1 1532.5,3307.9 1535.0,3307.2 1537.5,3306.3 1540.0,3307.7 1542.5,3306.8 1545.0,3307.0 1547.5,3307.3 1550.0,3305.6 1552.5,3307.4 1555.0,3307.2 1557.5,3306.8 1560.0,3306.9 1562.5,3306.7 1565.0,3306.1 1567.5,3306.9 1570.0,3305.7 1572.5,3306.8 1575.0,3307.2 1577.5,3306.7 1580.0,3307.0 1582.5,3307.9 1585.0,3307.7 1587.5,3305.9 1590.0,3307.5 1592.5,3307.1 1595.0,3305.7 1597.5,3306.5 1600.0,3306.2 1602.5,3305.8 1605.0,3306.9 1607.5,3307.8 1610.0,3306.4 1612.5,3307.7 1615.0,3307.3 1617.5,3305.9 1620.0,3307.7 1622.5,3307.0 1625.0,3307.8 1627.5,3307.3 1630.0,3307.4 1632.5,3306.4 1635.0,3307.5 1637.5,3307.8 1640.0,3307.7 1642.5,3306.6 1645.0,3307.4 1647.5,3306.8 1650.0,3305.9 1652.5,3305.7 1655.0,3305.8 1657.5,3306.1 1660.0,3306.0 1662.5,3306.8 1665.0,3307.3 1667.5,3306.9 1670.0,3306.6 1672.5,3307.2 1675.0,3306.3 1677.5,3306.7 1680.0,3307.4 1682.5,3306.6 1685.0,3306.0 1687.5,3307.8 1690.0,3307.3 1692.5,3306.5 1695.0,3306.5 1697.5,3306.9 1700.0,3307.0 1702.5,3306.1 1705.0,3305.6 1707.5,3306.1 1710.0,3307.5 1712.5,3305.9 1715.0,3306.7 1717.5,3306.1 1720.0,3306.1 1722.5,3306.0 1725.0,3306.6 1727.5,3306.0 1730.0,3305.7 1732.5,3305.9 1735.0,3306.0 1737.5,3306.8 1740.0,3305.7 1742.5,3305.7 1745.0,3306.7 1747.5,3306.6 1750.0,3307.3 1752.5,3305.7 1755.0,3306.6 1757.5,3306.6 1760.0,3305.7 1762.5,3307.9 1765.0,3306.1 1767.5,3305.8 1770.0,3306.7 1772.5,3306.0 1775.0,3307.1 1777.5,3306.4 1780.0,3305.9 1782.5,3305.7 1785.0,3307.3 1787.5,3306.3 1790.0,3307.5 1792.5,3306.7 1795.0,3307.8 1797.5,3306.3 1800.0,3306.2 1802.5,3306.2 1805.0,3307.6 1807.5,3307.1 1810.0,3306.4 1812.5,3305.8 1815.0,3307.2 1817.5,3307.9 1820.0,3307.0 1822.5,3305.6 1825.0,3305.7 1827.5,3305.8 1830.0,3306.0 1832.5,3305.7 1835.0,3305.7 1837.5,3307.2 1840.0,3307.8 1842.5,3306.1 1845.0,3307.9 1847.5,3306.7 1850.0,3307.5 1852.5,3307.8 1855.0,3307.9 1857.5,3305.7 1860.0,3306.3 1862.5,3307.1 1865.0,3307.9 1867.5,3305.8 1870.0,3306.3 1872.5,3307.6 1875.0,3305.9 1877.5,3306.5 1880.0,3306.4 1882.5,3307.2 1885.0,3307.8 1887.5,3306.0 1890.0,3307.4 1892.5,3307.4 1895.0,3307.6 1897.5,3306.9 1900.0,3307.8 1902.5,3306.5 1905.0,3306.6 1907.5,3306.2 1910.0,3307.5 1912.5,3306.8 1915.0,3306.2 1917.5,3306.0 1920.0,3307.3 1922.5,3307.1 1925.0,3307.3 1927.5,3306.5 1930.0,3306.8 1932.5,3306.0 1935.0,3307.3 1937.5,3305.7 1940.0,3306.7 1942.5,3307.4 1945.0,3307.2 1947.5,3305.8 1950.0,3306.2 1952.5,3307.6 1955.0,3307.1 1957.5,3307.7 1960.0,3307.7 1962.5,3306.7 1965.0,3307.8 1967.5,3307.4 1970.0,3306.4 1972.5,3306.5 1975.0,3305.8 1977.5,3306.6 1980.0,3307.9 1982.5,3305.9 1985.0,3307.0 1987.5,3305.9 1990.0,3305.8 1992.5,3307.2 1995.0,3306.2 1997.5,3305.7 2000.0,3306.0 2002.5,3307.1 2005.0,3307.0 2007.5,3305.6 2010.0,3306.2 2012.5,3307.9 2015.0,3306.1 2017.5,3306.9 2020.0,3306.6 2022.5,3307.5 2025.0,3307.1 2027.5,3307.5 2030.0,3306.9 2032.5,3306.1 2035.0,3306.0 2037.5,3305.8 2040.0,3307.6 2042.5,3305.9 2045.0,3305.7 2047.5,3307.9 2050.0,3306.1 2052.5,3307.7 2055.0,3305.8 2057.5,3306.7 2060.0,3306.1 2062.5,3307.6 2065.0,3307.1 2067.5,3307.1 2070.0,3307.4 2072.5,3307.7 2075.0,3306.4 2077.5,3307.0 2080.0,3306.7 2082.5,3305.9 2085.0,3307.6 2087.5,3307.0 2090.0,3307.6 2092.5,3306.1 2095.0,3306.9 2097.5,3306.7 2100.0,3307.3 2102.5,3305.8 2105.0,3306.4 2107.5,3306.8 2110.0,3305.8 2112.5,3306.9 2115.0,3307.4 2117.5,3306.6 2120.0,3307.2 2122.5,3307.1 2125.0,3306.1 2127.5,3306.4 2130.0,3308.0 2132.5,3306.4 2135.0,3306.6 2137.5,3305.8 2140.0,3306.1 2142.5,3306.0 2145.0,3307.8 2147.5,3307.3 2150.0,3307.7 2152.5,3308.0 2155.0,3307.1 2157.5,3307.8 2160.0,3306.9 2162.5,3306.6 2165.0,3307.9 2167.5,3307.8 2170.0,3307.9 2172.5,3306.8 2175.0,3307.5 2177.5,3306.6 2180.0,3308.0 2182.5,3307.8 2185.0,3306.3 2187.5,3307.8 2190.0,3306.0 2192.5,3305.8 2195.0,3307.3 2197.5,3306.3 2200.0,3306.8 2202.5,3307.1 2205.0,3305.7 2207.5,3307.4 2210.0,3306.3 2212.5,3306.6 2215.0,3306.4 2217.5,3307.4 2220.0,3307.4 2222.5,3306.3 2225.0,3305.8 2227.5,3306.3 2230.0,3306.6 2232.5,3305.8 2235.0,3306.0 2237.5,3307.4 2240.0,3307.3 2242.5,3307.9 2245.0,3308.0 2247.5,3307.7 2250.0,3306.5 2252.5,3306.0 2255.0,3306.3 2257.5,3306.7 2260.0,3306.9 2262.5,3306.9 2265.0,3306.5 2267.5,3307.6 2270.0,3306.3 2272.5,3306.7 2275.0,3307.7 2276.2,3306.8" stroke="#000" stroke-width="9.6" clip-path="url(#cB)"/>
<path id="sampleB" d="M225.1,2693.0C229.0,2692.9 239.2,2692.5 248.5,2692.6C257.8,2692.7 271.5,2693.8 280.9,2693.8C290.3,2693.8 298.4,2692.4 305.1,2692.6C311.8,2692.8 315.9,2695.2 321.3,2695.0C326.7,2694.8 330.8,2691.6 337.5,2691.4C344.2,2691.2 354.3,2693.5 361.7,2693.8C369.1,2694.1 375.1,2693.6 381.9,2693.4C388.6,2693.2 396.1,2693.0 402.2,2692.6C408.3,2692.2 412.9,2691.1 418.3,2691.0C423.7,2690.9 429.8,2692.1 434.5,2691.8C439.2,2691.5 442.6,2690.4 446.6,2689.4C450.7,2688.4 454.1,2686.6 458.8,2685.7C463.5,2684.8 470.2,2683.6 474.9,2683.7C479.6,2683.8 483.4,2685.7 487.1,2686.5C490.8,2687.3 493.8,2689.0 497.2,2688.5C500.6,2688.0 504.3,2686.4 507.3,2683.7C510.3,2681.0 512.7,2678.3 515.4,2672.4C518.1,2666.5 521.1,2657.5 523.5,2648.1C525.9,2638.7 527.5,2627.9 529.5,2615.8C531.5,2603.7 533.6,2588.8 535.6,2575.3C537.6,2561.8 539.7,2545.7 541.6,2534.9C543.5,2524.1 545.2,2515.8 546.9,2510.6C548.6,2505.3 550.3,2503.4 551.8,2503.4C553.3,2503.4 554.5,2505.3 555.8,2510.6C557.1,2515.8 558.4,2524.8 559.8,2534.9C561.1,2545.0 562.7,2558.5 563.9,2571.3C565.1,2584.1 566.1,2598.2 567.1,2611.7C568.1,2625.2 569.0,2638.7 569.9,2652.2C570.8,2665.7 571.8,2679.1 572.8,2692.6C573.8,2706.1 574.9,2719.5 576.0,2733.0C577.1,2746.5 578.0,2760.0 579.2,2773.5C580.4,2787.0 581.9,2800.4 583.3,2813.9C584.6,2827.4 585.9,2844.5 587.3,2854.3C588.6,2864.1 590.2,2868.6 591.4,2872.5C592.5,2876.4 593.1,2878.1 594.2,2877.8C595.3,2877.5 596.9,2874.4 598.2,2870.5C599.6,2866.6 600.6,2863.7 602.3,2854.3C604.0,2844.9 606.4,2828.1 608.4,2813.9C610.4,2799.8 612.4,2782.2 614.4,2769.4C616.4,2756.6 618.5,2745.9 620.5,2737.1C622.5,2728.3 624.1,2722.5 626.5,2716.8C628.9,2711.1 631.6,2705.9 634.6,2702.7C637.6,2699.5 641.0,2698.0 644.7,2697.4C648.4,2696.8 652.5,2698.4 656.9,2699.1C661.3,2699.8 666.3,2701.6 671.0,2701.5C675.7,2701.4 680.2,2699.9 685.2,2698.7C690.2,2697.5 696.6,2695.0 701.3,2694.2C706.0,2693.4 708.1,2693.6 713.5,2693.8C718.9,2694.0 727.6,2695.1 733.7,2695.4C739.8,2695.7 743.2,2695.7 750.0,2695.4C756.8,2695.1 765.5,2694.3 774.3,2693.8C783.1,2693.3 794.9,2692.1 802.6,2692.2C810.4,2692.3 812.7,2693.9 820.8,2694.2C828.9,2694.5 840.0,2694.0 851.1,2693.8C862.2,2693.6 878.8,2692.9 887.5,2693.0C896.2,2693.1 897.5,2694.7 903.6,2694.6C909.7,2694.5 917.8,2692.5 923.9,2692.2C930.0,2691.9 934.6,2693.2 940.0,2692.6C945.4,2692.0 951.5,2689.5 956.2,2688.5C960.9,2687.5 964.9,2687.2 968.3,2686.5C971.7,2685.8 973.0,2684.5 976.4,2684.5C979.8,2684.5 984.5,2685.8 988.5,2686.5C992.5,2687.2 997.0,2688.8 1000.7,2688.5C1004.4,2688.2 1007.8,2686.8 1010.8,2684.5C1013.8,2682.2 1016.2,2679.8 1018.9,2674.4C1021.6,2669.0 1024.7,2661.3 1027.0,2652.2C1029.3,2643.1 1031.0,2631.9 1033.0,2619.8C1035.0,2607.7 1037.1,2592.9 1039.1,2579.4C1041.1,2565.9 1043.1,2550.0 1045.1,2538.9C1047.1,2527.8 1049.3,2518.2 1051.2,2512.7C1053.1,2507.2 1054.8,2505.5 1056.5,2505.8C1058.2,2506.1 1059.8,2508.5 1061.3,2514.7C1062.8,2520.9 1064.1,2531.6 1065.4,2543.0C1066.8,2554.4 1068.2,2569.9 1069.4,2583.4C1070.6,2596.9 1071.6,2610.4 1072.6,2623.9C1073.6,2637.4 1074.5,2650.8 1075.5,2664.3C1076.5,2677.8 1077.3,2691.2 1078.3,2704.7C1079.3,2718.2 1080.4,2731.6 1081.5,2745.1C1082.6,2758.6 1083.6,2772.1 1084.8,2785.6C1086.0,2799.1 1087.3,2813.2 1088.8,2826.0C1090.3,2838.8 1092.1,2854.3 1093.7,2862.4C1095.3,2870.5 1096.8,2874.5 1098.5,2874.5C1100.2,2874.5 1102.0,2869.1 1103.8,2862.4C1105.5,2855.7 1107.3,2844.9 1109.0,2834.1C1110.7,2823.3 1112.1,2809.8 1113.9,2797.7C1115.7,2785.6 1117.9,2772.1 1119.9,2761.3C1121.9,2750.5 1124.0,2740.8 1126.0,2733.0C1128.0,2725.2 1129.7,2720.2 1132.1,2714.8C1134.5,2709.4 1137.5,2703.7 1140.2,2700.7C1142.9,2697.7 1145.2,2696.8 1148.2,2696.6C1151.2,2696.4 1154.7,2698.7 1158.4,2699.5C1162.1,2700.3 1165.8,2701.6 1170.5,2701.5C1175.2,2701.4 1181.3,2699.7 1186.7,2698.7C1192.1,2697.7 1197.4,2696.3 1202.8,2695.4C1208.2,2694.5 1213.6,2693.7 1219.0,2693.4C1224.4,2693.1 1229.8,2693.6 1235.2,2693.8C1240.6,2694.0 1245.9,2694.7 1251.3,2694.6C1256.7,2694.5 1261.4,2693.6 1267.5,2693.4C1273.6,2693.2 1282.3,2693.3 1287.7,2693.4C1293.1,2693.5 1293.9,2694.1 1300.0,2693.8C1306.1,2693.5 1317.6,2691.7 1324.3,2691.8C1331.0,2691.9 1334.4,2694.3 1340.4,2694.6C1346.5,2694.9 1353.8,2694.1 1360.6,2693.8C1367.3,2693.5 1373.5,2693.0 1380.9,2692.6C1388.3,2692.2 1397.0,2691.5 1405.1,2691.4C1413.2,2691.3 1421.3,2691.6 1429.4,2691.8C1437.5,2692.0 1446.9,2693.2 1453.6,2692.6C1460.3,2692.0 1464.4,2689.7 1469.8,2688.5C1475.2,2687.3 1481.3,2686.0 1486.0,2685.7C1490.7,2685.4 1494.1,2685.9 1498.1,2686.5C1502.1,2687.1 1506.5,2689.7 1510.2,2689.4C1513.9,2689.1 1517.4,2687.3 1520.4,2684.5C1523.4,2681.7 1526.0,2677.8 1528.4,2672.4C1530.8,2667.0 1532.7,2660.3 1534.9,2652.2C1537.1,2644.1 1539.3,2634.7 1541.4,2623.9C1543.5,2613.1 1545.4,2599.6 1547.4,2587.5C1549.4,2575.4 1551.5,2562.0 1553.5,2551.1C1555.5,2540.2 1557.3,2528.8 1559.2,2522.0C1561.1,2515.2 1563.0,2510.6 1564.8,2510.6C1566.6,2510.6 1568.5,2515.2 1570.1,2522.0C1571.6,2528.8 1572.8,2539.5 1574.1,2551.1C1575.4,2562.7 1577.0,2578.0 1578.2,2591.5C1579.4,2605.0 1580.1,2618.4 1581.0,2631.9C1581.9,2645.4 1582.9,2660.9 1583.8,2672.4C1584.7,2683.9 1585.4,2689.2 1586.3,2700.7C1587.2,2712.1 1588.2,2727.6 1589.1,2741.1C1590.0,2754.6 1590.9,2769.4 1591.9,2781.5C1592.9,2793.6 1593.9,2803.1 1595.1,2813.9C1596.3,2824.7 1597.8,2837.8 1599.2,2846.2C1600.6,2854.6 1601.9,2860.6 1603.2,2864.4C1604.5,2868.2 1605.8,2869.6 1607.3,2869.3C1608.8,2869.0 1610.4,2867.6 1612.1,2862.4C1613.8,2857.2 1615.7,2848.2 1617.4,2838.1C1619.2,2828.0 1620.8,2813.9 1622.6,2801.8C1624.4,2789.7 1626.3,2776.9 1628.3,2765.4C1630.3,2753.9 1632.6,2741.8 1634.8,2733.0C1637.0,2724.2 1639.1,2718.1 1641.6,2712.8C1644.1,2707.6 1646.7,2703.8 1649.7,2701.5C1652.7,2699.2 1655.4,2698.8 1659.8,2698.7C1664.2,2698.6 1669.9,2700.6 1676.0,2700.7C1682.1,2700.8 1689.5,2700.2 1696.2,2699.5C1702.9,2698.8 1709.7,2697.4 1716.4,2696.6C1723.2,2695.8 1728.6,2695.1 1736.7,2694.6C1744.8,2694.1 1754.9,2694.1 1765.0,2693.8C1775.1,2693.5 1787.2,2692.6 1797.3,2692.6C1807.4,2692.6 1814.1,2693.8 1825.6,2693.8C1837.0,2693.8 1853.6,2692.6 1866.0,2692.6C1878.4,2692.6 1892.0,2693.8 1900.0,2693.8C1908.0,2693.8 1909.3,2692.9 1914.0,2692.6C1918.7,2692.3 1923.3,2692.0 1928.0,2692.2C1932.7,2692.3 1937.3,2693.4 1942.0,2693.4C1946.7,2693.3 1951.3,2692.0 1956.0,2692.0C1960.7,2691.9 1965.3,2693.0 1970.0,2693.1C1974.7,2693.2 1979.3,2692.9 1984.0,2692.7C1988.7,2692.5 1993.3,2691.9 1998.0,2691.9C2002.7,2692.0 2007.3,2693.0 2012.0,2693.0C2016.7,2693.0 2021.3,2691.9 2026.0,2691.9C2030.7,2691.9 2035.3,2692.8 2040.0,2692.8C2044.7,2692.9 2049.3,2692.1 2054.0,2692.0C2058.7,2691.8 2063.3,2691.9 2068.0,2692.0C2072.7,2692.2 2077.3,2692.5 2082.0,2692.8C2086.7,2693.1 2091.3,2693.9 2096.0,2693.8C2100.7,2693.7 2105.3,2692.3 2110.0,2692.1C2114.7,2691.9 2119.3,2692.1 2124.0,2692.3C2128.7,2692.5 2133.3,2693.0 2138.0,2693.3C2142.7,2693.6 2147.3,2694.1 2152.0,2694.1C2156.7,2694.1 2161.3,2693.4 2166.0,2693.2C2170.7,2693.0 2175.3,2692.6 2180.0,2692.8C2184.7,2692.9 2189.3,2694.3 2194.0,2694.1C2198.7,2694.0 2203.3,2692.0 2208.0,2691.9C2212.7,2691.9 2217.3,2693.8 2222.0,2693.9C2226.7,2694.0 2231.3,2692.8 2236.0,2692.5C2240.7,2692.2 2245.3,2692.2 2250.0,2692.1C2254.7,2692.1 2259.9,2692.0 2264.0,2692.1C2268.1,2692.1 2272.8,2692.5 2274.5,2692.5" stroke="#f00" stroke-width="9.4" clip-path="url(#csolid)"/>
<path id="sampleBfaded" d="M225.1,2693.0C229.0,2692.9 239.2,2692.5 248.5,2692.6C257.8,2692.7 271.5,2693.8 280.9,2693.8C290.3,2693.8 298.4,2692.4 305.1,2692.6C311.8,2692.8 315.9,2695.2 321.3,2695.0C326.7,2694.8 330.8,2691.6 337.5,2691.4C344.2,2691.2 354.3,2693.5 361.7,2693.8C369.1,2694.1 375.1,2693.6 381.9,2693.4C388.6,2693.2 396.1,2693.0 402.2,2692.6C408.3,2692.2 412.9,2691.1 418.3,2691.0C423.7,2690.9 429.8,2692.1 434.5,2691.8C439.2,2691.5 442.6,2690.4 446.6,2689.4C450.7,2688.4 454.1,2686.6 458.8,2685.7C463.5,2684.8 470.2,2683.6 474.9,2683.7C479.6,2683.8 483.4,2685.7 487.1,2686.5C490.8,2687.3 493.8,2689.0 497.2,2688.5C500.6,2688.0 504.3,2686.4 507.3,2683.7C510.3,2681.0 512.7,2678.3 515.4,2672.4C518.1,2666.5 521.1,2657.5 523.5,2648.1C525.9,2638.7 527.5,2627.9 529.5,2615.8C531.5,2603.7 533.6,2588.8 535.6,2575.3C537.6,2561.8 539.7,2545.7 541.6,2534.9C543.5,2524.1 545.2,2515.8 546.9,2510.6C548.6,2505.3 550.3,2503.4 551.8,2503.4C553.3,2503.4 554.5,2505.3 555.8,2510.6C557.1,2515.8 558.4,2524.8 559.8,2534.9C561.1,2545.0 562.7,2558.5 563.9,2571.3C565.1,2584.1 566.1,2598.2 567.1,2611.7C568.1,2625.2 569.0,2638.7 569.9,2652.2C570.8,2665.7 571.8,2679.1 572.8,2692.6C573.8,2706.1 574.9,2719.5 576.0,2733.0C577.1,2746.5 578.0,2760.0 579.2,2773.5C580.4,2787.0 581.9,2800.4 583.3,2813.9C584.6,2827.4 585.9,2844.5 587.3,2854.3C588.6,2864.1 590.2,2868.6 591.4,2872.5C592.5,2876.4 593.1,2878.1 594.2,2877.8C595.3,2877.5 596.9,2874.4 598.2,2870.5C599.6,2866.6 600.6,2863.7 602.3,2854.3C604.0,2844.9 606.4,2828.1 608.4,2813.9C610.4,2799.8 612.4,2782.2 614.4,2769.4C616.4,2756.6 618.5,2745.9 620.5,2737.1C622.5,2728.3 624.1,2722.5 626.5,2716.8C628.9,2711.1 631.6,2705.9 634.6,2702.7C637.6,2699.5 641.0,2698.0 644.7,2697.4C648.4,2696.8 652.5,2698.4 656.9,2699.1C661.3,2699.8 666.3,2701.6 671.0,2701.5C675.7,2701.4 680.2,2699.9 685.2,2698.7C690.2,2697.5 696.6,2695.0 701.3,2694.2C706.0,2693.4 708.1,2693.6 713.5,2693.8C718.9,2694.0 727.6,2695.1 733.7,2695.4C739.8,2695.7 743.2,2695.7 750.0,2695.4C756.8,2695.1 765.5,2694.3 774.3,2693.8C783.1,2693.3 794.9,2692.1 802.6,2692.2C810.4,2692.3 812.7,2693.9 820.8,2694.2C828.9,2694.5 840.0,2694.0 851.1,2693.8C862.2,2693.6 878.8,2692.9 887.5,2693.0C896.2,2693.1 897.5,2694.7 903.6,2694.6C909.7,2694.5 917.8,2692.5 923.9,2692.2C930.0,2691.9 934.6,2693.2 940.0,2692.6C945.4,2692.0 951.5,2689.5 956.2,2688.5C960.9,2687.5 964.9,2687.2 968.3,2686.5C971.7,2685.8 973.0,2684.5 976.4,2684.5C979.8,2684.5 984.5,2685.8 988.5,2686.5C992.5,2687.2 997.0,2688.8 1000.7,2688.5C1004.4,2688.2 1007.8,2686.8 1010.8,2684.5C1013.8,2682.2 1016.2,2679.8 1018.9,2674.4C1021.6,2669.0 1024.7,2661.3 1027.0,2652.2C1029.3,2643.1 1031.0,2631.9 1033.0,2619.8C1035.0,2607.7 1037.1,2592.9 1039.1,2579.4C1041.1,2565.9 1043.1,2550.0 1045.1,2538.9C1047.1,2527.8 1049.3,2518.2 1051.2,2512.7C1053.1,2507.2 1054.8,2505.5 1056.5,2505.8C1058.2,2506.1 1059.8,2508.5 1061.3,2514.7C1062.8,2520.9 1064.1,2531.6 1065.4,2543.0C1066.8,2554.4 1068.2,2569.9 1069.4,2583.4C1070.6,2596.9 1071.6,2610.4 1072.6,2623.9C1073.6,2637.4 1074.5,2650.8 1075.5,2664.3C1076.5,2677.8 1077.3,2691.2 1078.3,2704.7C1079.3,2718.2 1080.4,2731.6 1081.5,2745.1C1082.6,2758.6 1083.6,2772.1 1084.8,2785.6C1086.0,2799.1 1087.3,2813.2 1088.8,2826.0C1090.3,2838.8 1092.1,2854.3 1093.7,2862.4C1095.3,2870.5 1096.8,2874.5 1098.5,2874.5C1100.2,2874.5 1102.0,2869.1 1103.8,2862.4C1105.5,2855.7 1107.3,2844.9 1109.0,2834.1C1110.7,2823.3 1112.1,2809.8 1113.9,2797.7C1115.7,2785.6 1117.9,2772.1 1119.9,2761.3C1121.9,2750.5 1124.0,2740.8 1126.0,2733.0C1128.0,2725.2 1129.7,2720.2 1132.1,2714.8C1134.5,2709.4 1137.5,2703.7 1140.2,2700.7C1142.9,2697.7 1145.2,2696.8 1148.2,2696.6C1151.2,2696.4 1154.7,2698.7 1158.4,2699.5C1162.1,2700.3 1165.8,2701.6 1170.5,2701.5C1175.2,2701.4 1181.3,2699.7 1186.7,2698.7C1192.1,2697.7 1197.4,2696.3 1202.8,2695.4C1208.2,2694.5 1213.6,2693.7 1219.0,2693.4C1224.4,2693.1 1229.8,2693.6 1235.2,2693.8C1240.6,2694.0 1245.9,2694.7 1251.3,2694.6C1256.7,2694.5 1261.4,2693.6 1267.5,2693.4C1273.6,2693.2 1282.3,2693.3 1287.7,2693.4C1293.1,2693.5 1293.9,2694.1 1300.0,2693.8C1306.1,2693.5 1317.6,2691.7 1324.3,2691.8C1331.0,2691.9 1334.4,2694.3 1340.4,2694.6C1346.5,2694.9 1353.8,2694.1 1360.6,2693.8C1367.3,2693.5 1373.5,2693.0 1380.9,2692.6C1388.3,2692.2 1397.0,2691.5 1405.1,2691.4C1413.2,2691.3 1421.3,2691.6 1429.4,2691.8C1437.5,2692.0 1446.9,2693.2 1453.6,2692.6C1460.3,2692.0 1464.4,2689.7 1469.8,2688.5C1475.2,2687.3 1481.3,2686.0 1486.0,2685.7C1490.7,2685.4 1494.1,2685.9 1498.1,2686.5C1502.1,2687.1 1506.5,2689.7 1510.2,2689.4C1513.9,2689.1 1517.4,2687.3 1520.4,2684.5C1523.4,2681.7 1526.0,2677.8 1528.4,2672.4C1530.8,2667.0 1532.7,2660.3 1534.9,2652.2C1537.1,2644.1 1539.3,2634.7 1541.4,2623.9C1543.5,2613.1 1545.4,2599.6 1547.4,2587.5C1549.4,2575.4 1551.5,2562.0 1553.5,2551.1C1555.5,2540.2 1557.3,2528.8 1559.2,2522.0C1561.1,2515.2 1563.0,2510.6 1564.8,2510.6C1566.6,2510.6 1568.5,2515.2 1570.1,2522.0C1571.6,2528.8 1572.8,2539.5 1574.1,2551.1C1575.4,2562.7 1577.0,2578.0 1578.2,2591.5C1579.4,2605.0 1580.1,2618.4 1581.0,2631.9C1581.9,2645.4 1582.9,2660.9 1583.8,2672.4C1584.7,2683.9 1585.4,2689.2 1586.3,2700.7C1587.2,2712.1 1588.2,2727.6 1589.1,2741.1C1590.0,2754.6 1590.9,2769.4 1591.9,2781.5C1592.9,2793.6 1593.9,2803.1 1595.1,2813.9C1596.3,2824.7 1597.8,2837.8 1599.2,2846.2C1600.6,2854.6 1601.9,2860.6 1603.2,2864.4C1604.5,2868.2 1605.8,2869.6 1607.3,2869.3C1608.8,2869.0 1610.4,2867.6 1612.1,2862.4C1613.8,2857.2 1615.7,2848.2 1617.4,2838.1C1619.2,2828.0 1620.8,2813.9 1622.6,2801.8C1624.4,2789.7 1626.3,2776.9 1628.3,2765.4C1630.3,2753.9 1632.6,2741.8 1634.8,2733.0C1637.0,2724.2 1639.1,2718.1 1641.6,2712.8C1644.1,2707.6 1646.7,2703.8 1649.7,2701.5C1652.7,2699.2 1655.4,2698.8 1659.8,2698.7C1664.2,2698.6 1669.9,2700.6 1676.0,2700.7C1682.1,2700.8 1689.5,2700.2 1696.2,2699.5C1702.9,2698.8 1709.7,2697.4 1716.4,2696.6C1723.2,2695.8 1728.6,2695.1 1736.7,2694.6C1744.8,2694.1 1754.9,2694.1 1765.0,2693.8C1775.1,2693.5 1787.2,2692.6 1797.3,2692.6C1807.4,2692.6 1814.1,2693.8 1825.6,2693.8C1837.0,2693.8 1853.6,2692.6 1866.0,2692.6C1878.4,2692.6 1892.0,2693.8 1900.0,2693.8C1908.0,2693.8 1909.3,2692.9 1914.0,2692.6C1918.7,2692.3 1923.3,2692.0 1928.0,2692.2C1932.7,2692.3 1937.3,2693.4 1942.0,2693.4C1946.7,2693.3 1951.3,2692.0 1956.0,2692.0C1960.7,2691.9 1965.3,2693.0 1970.0,2693.1C1974.7,2693.2 1979.3,2692.9 1984.0,2692.7C1988.7,2692.5 1993.3,2691.9 1998.0,2691.9C2002.7,2692.0 2007.3,2693.0 2012.0,2693.0C2016.7,2693.0 2021.3,2691.9 2026.0,2691.9C2030.7,2691.9 2035.3,2692.8 2040.0,2692.8C2044.7,2692.9 2049.3,2692.1 2054.0,2692.0C2058.7,2691.8 2063.3,2691.9 2068.0,2692.0C2072.7,2692.2 2077.3,2692.5 2082.0,2692.8C2086.7,2693.1 2091.3,2693.9 2096.0,2693.8C2100.7,2693.7 2105.3,2692.3 2110.0,2692.1C2114.7,2691.9 2119.3,2692.1 2124.0,2692.3C2128.7,2692.5 2133.3,2693.0 2138.0,2693.3C2142.7,2693.6 2147.3,2694.1 2152.0,2694.1C2156.7,2694.1 2161.3,2693.4 2166.0,2693.2C2170.7,2693.0 2175.3,2692.6 2180.0,2692.8C2184.7,2692.9 2189.3,2694.3 2194.0,2694.1C2198.7,2694.0 2203.3,2692.0 2208.0,2691.9C2212.7,2691.9 2217.3,2693.8 2222.0,2693.9C2226.7,2694.0 2231.3,2692.8 2236.0,2692.5C2240.7,2692.2 2245.3,2692.2 2250.0,2692.1C2254.7,2692.1 2259.9,2692.0 2264.0,2692.1C2268.1,2692.1 2272.8,2692.5 2274.5,2692.5" stroke="url(#dith)" stroke-width="9.4" clip-path="url(#cbox)" shape-rendering="crispEdges"/>
</g>
<g id="labels">
<text transform="translate(219,1696.4) scale(0.9700,1.0350)" font-size="62.3" text-anchor="middle" stroke="#000" stroke-width="0.25" stroke-linejoin="round">333</text>
<text transform="translate(507.14,1696.4) scale(0.9700,1.0350)" font-size="62.3" text-anchor="middle" stroke="#000" stroke-width="0.25" stroke-linejoin="round">334</text>
<text transform="translate(795.29,1696.4) scale(0.9700,1.0350)" font-size="62.3" text-anchor="middle" stroke="#000" stroke-width="0.25" stroke-linejoin="round">335</text>
<text transform="translate(1083.43,1696.4) scale(0.9700,1.0350)" font-size="62.3" text-anchor="middle" stroke="#000" stroke-width="0.25" stroke-linejoin="round">336</text>
<text transform="translate(1371.57,1696.4) scale(0.9700,1.0350)" font-size="62.3" text-anchor="middle" stroke="#000" stroke-width="0.25" stroke-linejoin="round">337</text>
<text transform="translate(1659.71,1696.4) scale(0.9700,1.0350)" font-size="62.3" text-anchor="middle" stroke="#000" stroke-width="0.25" stroke-linejoin="round">338</text>
<text transform="translate(1947.86,1696.4) scale(0.9700,1.0350)" font-size="62.3" text-anchor="middle" stroke="#000" stroke-width="0.25" stroke-linejoin="round">339</text>
<text transform="translate(2236,1696.4) scale(0.9700,1.0350)" font-size="62.3" text-anchor="middle" stroke="#000" stroke-width="0.25" stroke-linejoin="round">340</text>
<text transform="translate(1276.6,1795.4) scale(0.9880,1.0000)" font-size="76.3" text-anchor="middle" stroke="#000" stroke-width="0.6" stroke-linejoin="round">Magnetic field (mT)</text>
<text transform="translate(100,795.9) rotate(-90) scale(0.9910,1.0000)" font-size="76.3" text-anchor="middle" stroke="#000" stroke-width="0.6" stroke-linejoin="round">Intensity (a.u)</text>
<text transform="translate(1757.7,310) scale(0.9920,1.0400)" font-size="76.3" text-anchor="start" stroke="#000" stroke-width="0.4" stroke-linejoin="round">PPBC800/PS</text>
<text transform="translate(1875.5,1131.4) scale(0.9950,1.0000)" font-size="76.3" text-anchor="start" stroke="#000" stroke-width="0.4" stroke-linejoin="round">Blank</text>
<text transform="translate(239.8,1574.8) scale(0.9680,1.0000)" font-size="76.3" text-anchor="start" stroke="#000" stroke-width="0.4" stroke-linejoin="round">(A)</text>
<text transform="translate(225,3776.3) scale(0.9900,1.0350)" font-size="62.3" text-anchor="middle" stroke="#000" stroke-width="0.25" stroke-linejoin="round">333</text>
<text transform="translate(518,3776.3) scale(0.9900,1.0350)" font-size="62.3" text-anchor="middle" stroke="#000" stroke-width="0.25" stroke-linejoin="round">334</text>
<text transform="translate(811,3776.3) scale(0.9900,1.0350)" font-size="62.3" text-anchor="middle" stroke="#000" stroke-width="0.25" stroke-linejoin="round">335</text>
<text transform="translate(1104,3776.3) scale(0.9900,1.0350)" font-size="62.3" text-anchor="middle" stroke="#000" stroke-width="0.25" stroke-linejoin="round">336</text>
<text transform="translate(1397,3776.3) scale(0.9900,1.0350)" font-size="62.3" text-anchor="middle" stroke="#000" stroke-width="0.25" stroke-linejoin="round">337</text>
<text transform="translate(1690,3776.3) scale(0.9900,1.0350)" font-size="62.3" text-anchor="middle" stroke="#000" stroke-width="0.25" stroke-linejoin="round">338</text>
<text transform="translate(1983,3776.3) scale(0.9900,1.0350)" font-size="62.3" text-anchor="middle" stroke="#000" stroke-width="0.25" stroke-linejoin="round">339</text>
<text transform="translate(2276,3776.3) scale(0.9900,1.0350)" font-size="62.3" text-anchor="middle" stroke="#000" stroke-width="0.25" stroke-linejoin="round">340</text>
<text transform="translate(1252.2,3872) scale(1.0047,1.0000)" font-size="76.3" text-anchor="middle" stroke="#000" stroke-width="0.6" stroke-linejoin="round">Magnetic field (mT)</text>
<text transform="translate(135.2,2937.5) rotate(-90) scale(1.0030,1.0000)" font-size="76.3" text-anchor="middle" stroke="#000" stroke-width="0.6" stroke-linejoin="round">Intensity (a.u)</text>
<text transform="translate(1748.2,2592.4) scale(1.0080,1.0400)" font-size="76.3" text-anchor="start" stroke="#000" stroke-width="0.4" stroke-linejoin="round">PPBC800/PS</text>
<text transform="translate(1929.5,3237.7)" font-size="76.3" text-anchor="start" stroke="#000" stroke-width="0.4" stroke-linejoin="round">Blank</text>
<text transform="translate(239.3,3655.2)" font-size="76.3" text-anchor="start" stroke="#000" stroke-width="0.4" stroke-linejoin="round">(B)</text>
</g>
</svg></body></html>
